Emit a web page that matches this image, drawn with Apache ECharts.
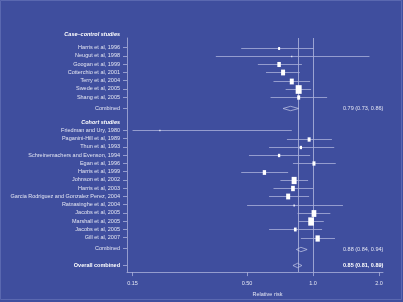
<!DOCTYPE html>
<html>
<head>
<meta charset="utf-8">
<script src="https://cdn.jsdelivr.net/npm/echarts@6.0.0/dist/echarts.min.js"></script>
<style>
  html, body { margin: 0; padding: 0; background: #3f4e9e; }
  #main { width: 403px; height: 302px; }
</style>
</head>
<body>
<div id="main"></div>
<script>
var caseNames = ['Harris et al, 1996', 'Neugut et al, 1998', 'Googan et al, 1999', 'Cotterchio et al, 2001',
  'Terry et al, 2004', 'Swede et al, 2005', 'Shang et al, 2005'];
var caseRR = [0.70, 0.80, 0.70, 0.73, 0.80, 0.86, 0.86];
var caseLo = [0.47, 0.36, 0.56, 0.61, 0.66, 0.75, 0.64];
var caseHi = [1.01, 1.81, 0.89, 0.87, 0.97, 0.98, 1.16];
var caseWeight = [2, 1, 3.5, 4, 4, 6, 3];

var cohortNames = ['Friedman and Ury, 1980', 'Paganini-Hill et al, 1989', 'Thun et al, 1993',
  'Schreinemachers and Evenson, 1994', 'Egan et al, 1996', 'Harris et al, 1999', 'Johnson et al, 2002',
  'Harris et al, 2003', 'Garcia Rodriguez and Gonzalez Perez, 2004', 'Ratnasinghe et al, 2004',
  'Jacobs et al, 2005', 'Marshall et al, 2005', 'Jacobs et al, 2005', 'Gill et al, 2007'];
var cohortRR = [0.20, 0.96, 0.88, 0.70, 1.01, 0.60, 0.82, 0.81, 0.77, 0.82, 1.01, 0.98, 0.83, 1.05];
var cohortLo = [0.15, 0.76, 0.63, 0.51, 0.81, 0.47, 0.71, 0.66, 0.63, 0.50, 0.85, 0.86, 0.63, 0.88];
var cohortHi = [0.80, 1.22, 1.25, 0.97, 1.27, 0.77, 0.95, 1.00, 0.96, 1.37, 1.20, 1.12, 1.10, 1.26];
var cohortWeight = [1, 3, 2.3, 2.3, 3, 3.3, 5, 3.7, 4, 1.3, 4.7, 5.7, 2.7, 4.3];

var combinedNames = ['Combined', 'Combined', 'Overall combined'];
var combinedRR = [0.79, 0.88, 0.85];
var combinedLo = [0.73, 0.84, 0.81];
var combinedHi = [0.86, 0.94, 0.89];

var refLines = [1.0, 0.85];
var xTicks = [0.15, 0.5, 1.0, 2.0];
var xTickLabels = ['0.15', '0.50', '1.0', '2.0'];

// rows are laid on a fine category axis (3 slots per study row)
var nSlots = 85;
var slotLabels = [], slotKind = [];
for (var i = 0; i < nSlots; i++) { slotLabels.push(''); slotKind.push(''); }
var studyData = [], combData = [];
function put(slot, label, kind) { slotLabels[slot] = label; slotKind[slot] = kind; }

put(0, 'Case–control studies', 'h1');
caseNames.forEach(function (n, i) {
  var s = 3 + i * 3;
  put(s, n, 's');
  studyData.push([caseRR[i], caseLo[i], caseHi[i], s, caseWeight[i]]);
});
put(25, combinedNames[0], 's');
combData.push([combinedRR[0], combinedLo[0], combinedHi[0], 25, 0]);
put(30, 'Cohort studies', 'h');
cohortNames.forEach(function (n, i) {
  var s = 33 + i * 3;
  put(s, n, 's');
  studyData.push([cohortRR[i], cohortLo[i], cohortHi[i], s, cohortWeight[i]]);
});
put(76, combinedNames[1], 's');
combData.push([combinedRR[1], combinedLo[1], combinedHi[1], 76, 0]);
put(82, combinedNames[2], 'b');
combData.push([combinedRR[2], combinedLo[2], combinedHi[2], 82, 1]);

var txt = '#e4e6f3';
var lineCol = '#a9b0da';

function renderRef(params, api) {
  var p = api.coord([api.value(0), 0]);
  var cs = params.coordSys;
  var x = Math.round(p[0]) + 0.5;
  return { type: 'line', shape: { x1: x, y1: cs.y, x2: x, y2: cs.y + cs.height },
    style: { stroke: '#b3b9e0', lineWidth: 0.8 } };
}

function renderStudy(params, api) {
  var s = api.value(3);
  var c = api.coord([api.value(0), s]);
  var a = api.coord([api.value(1), s]);
  var b = api.coord([api.value(2), s]);
  var y = Math.round(c[1]) + 0.5;
  var w = api.value(4);
  var h = w * 1.45;
  return {
    type: 'group',
    children: [
      { type: 'line', shape: { x1: a[0], y1: y, x2: b[0], y2: y }, style: { stroke: lineCol, lineWidth: 0.8 } },
      { type: 'rect', shape: { x: c[0] - w / 2, y: y - h / 2, width: w, height: h }, style: { fill: '#ffffff' } }
    ]
  };
}

function fmt(v) { return v.toFixed(2); }

function renderComb(params, api) {
  var s = api.value(3);
  var c = api.coord([api.value(0), s]);
  var a = api.coord([api.value(1), s]);
  var b = api.coord([api.value(2), s]);
  var y = Math.round(c[1]) + 0.5;
  var bold = api.value(4) === 1;
  var cs = params.coordSys;
  return {
    type: 'group',
    children: [
      { type: 'polygon', shape: { points: [[a[0], y], [c[0], y - 2.2], [b[0], y], [c[0], y + 2.2]] },
        style: { fill: 'none', stroke: '#c9cdea', lineWidth: 0.7 } },
      { type: 'text', x: cs.x + cs.width - 40, y: y,
        style: { text: fmt(api.value(0)) + ' (' + fmt(api.value(1)) + ', ' + fmt(api.value(2)) + ')',
          fill: bold ? '#ffffff' : txt, fontSize: 5.5, fontWeight: bold ? 'bold' : 'normal',
          fontFamily: 'Liberation Sans, Arial, sans-serif', verticalAlign: 'middle', align: 'left' } }
    ]
  };
}

var chart = echarts.init(document.getElementById('main'));
chart.setOption({
  backgroundColor: '#3f4e9e',
  animation: false,
  textStyle: { fontFamily: 'Liberation Sans, Arial, sans-serif' },
  graphic: [
    { type: 'rect', shape: { x: 0.5, y: 0.5, width: 401, height: 299 },
      style: { fill: null, stroke: '#5a68b0', lineWidth: 1 } }
  ],
  grid: { left: 127, right: 20, top: 38, bottom: 26 },
  xAxis: {
    type: 'log',
    logBase: 10,
    min: 0.1415,
    max: 2.087,
    axisLine: { show: true, lineStyle: { color: lineCol, width: 0.8 } },
    axisTick: { show: true, length: 4, customValues: xTicks, lineStyle: { color: lineCol, width: 0.8 } },
    minorTick: { show: false },
    splitLine: { show: false },
    axisLabel: {
      customValues: xTicks,
      color: txt, fontSize: 5.5, margin: 8,
      formatter: function (v) {
        var best = 0;
        for (var i = 1; i < xTicks.length; i++) {
          if (Math.abs(xTicks[i] - v) < Math.abs(xTicks[best] - v)) best = i;
        }
        return xTickLabels[best];
      }
    },
    name: 'Relative risk',
    nameLocation: 'middle',
    nameGap: 18,
    nameTextStyle: { color: txt, fontSize: 5.5, padding: [0, 0, 0, 25] }
  },
  yAxis: {
    type: 'category',
    inverse: true,
    data: slotLabels,
    boundaryGap: true,
    axisLine: { show: true, lineStyle: { color: lineCol, width: 0.8 } },
    axisTick: {
      show: true, length: 4, alignWithLabel: true,
      interval: function (i) { return slotKind[i] === 's' || slotKind[i] === 'b'; },
      lineStyle: { color: lineCol, width: 0.8 }
    },
    splitLine: { show: false },
    axisLabel: {
      interval: function (i) { return slotKind[i] !== ''; },
      margin: 7,
      color: txt,
      fontSize: 5.5,
      formatter: function (v, i) {
        var k = slotKind[i];
        if (k === 'h1') return '{h1|' + v + '}';
        if (k === 'h') return '{h|' + v + '}';
        if (k === 'b') return '{b|' + v + '}';
        return v;
      },
      rich: {
        h1: { fontWeight: 'bold', fontStyle: 'italic', color: '#ffffff', fontSize: 5.5, padding: [0, 0, 9, 0] },
        h: { fontWeight: 'bold', fontStyle: 'italic', color: '#ffffff', fontSize: 5.5 },
        b: { fontWeight: 'bold', color: '#ffffff', fontSize: 5.5 }
      }
    }
  },
  series: [
    {
      type: 'custom',
      renderItem: renderRef,
      encode: { x: 0 },
      data: refLines.map(function (v) { return [v]; }),
      silent: true,
      z: 2
    },
    {
      type: 'custom',
      renderItem: renderStudy,
      encode: { x: [0, 1, 2], y: 3 },
      data: studyData,
      silent: true,
      z: 3
    },
    {
      type: 'custom',
      renderItem: renderComb,
      encode: { x: [0, 1, 2], y: 3 },
      data: combData,
      silent: true,
      z: 3
    }
  ]
});
</script>
</body>
</html>
